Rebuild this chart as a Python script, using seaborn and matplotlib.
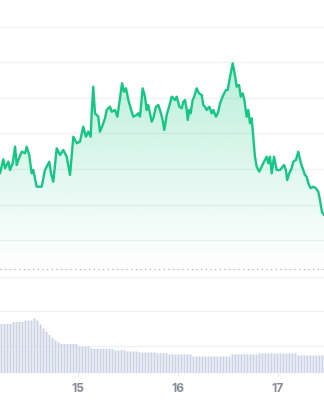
import numpy as np
import pandas as pd
import matplotlib
matplotlib.use("Agg")
import matplotlib.pyplot as plt
import seaborn as sns

# ---- data ----
days = [14.224, 14.257, 14.274, 14.307, 14.324, 14.351, 14.374, 14.391, 14.407, 14.441,
        14.474, 14.490, 14.516, 14.540, 14.556, 14.590, 14.623, 14.640, 14.673, 14.690,
        14.716, 14.733, 14.756, 14.790, 14.823, 14.856, 14.890, 14.923, 14.956, 14.990,
        15.022, 15.055, 15.082, 15.105, 15.129, 15.139, 15.155, 15.172, 15.205, 15.222,
        15.249, 15.272, 15.289, 15.322, 15.339, 15.372, 15.395, 15.415, 15.442, 15.462,
        15.482, 15.505, 15.538, 15.554, 15.588, 15.604, 15.621, 15.648, 15.671, 15.688,
        15.704, 15.738, 15.754, 15.781, 15.804, 15.821, 15.848, 15.864, 15.888, 15.921,
        15.938, 15.971, 15.988, 16.014, 16.038, 16.054, 16.071, 16.088, 16.098, 16.113,
        16.127, 16.147, 16.163, 16.187, 16.210, 16.237, 16.253, 16.270, 16.287, 16.313,
        16.337, 16.353, 16.380, 16.403, 16.420, 16.453, 16.480, 16.497, 16.520, 16.547,
        16.563, 16.587, 16.610, 16.627, 16.647, 16.663, 16.686, 16.702, 16.719, 16.736,
        16.769, 16.786, 16.812, 16.836, 16.859, 16.886, 16.902, 16.919, 16.936, 16.959,
        16.986, 17.019, 17.045, 17.059, 17.078, 17.091, 17.111, 17.135, 17.151, 17.178,
        17.201, 17.228, 17.251, 17.268, 17.285, 17.301, 17.325, 17.351, 17.378, 17.401,
        17.418, 17.438, 17.458]
price = [1.267, 1.407, 1.317, 1.383, 1.300, 1.367, 1.533, 1.350, 1.400, 1.483,
         1.467, 1.533, 1.450, 1.267, 1.300, 1.133, 1.133, 1.133, 1.300, 1.333,
         1.383, 1.267, 1.183, 1.517, 1.450, 1.500, 1.433, 1.250, 1.633, 1.567,
         1.583, 1.733, 1.633, 1.683, 1.633, 1.867, 2.133, 1.867, 1.833, 1.683,
         1.750, 1.817, 1.900, 1.933, 1.883, 1.900, 1.833, 1.967, 2.167, 2.083,
         2.117, 2.000, 1.883, 1.833, 1.850, 1.867, 1.833, 2.117, 2.033, 1.900,
         1.950, 1.783, 1.817, 1.933, 1.950, 1.900, 1.800, 1.700, 1.850, 1.967,
         2.033, 2.000, 2.033, 1.933, 1.917, 1.983, 2.000, 1.900, 1.800, 1.900,
         1.867, 2.000, 2.033, 2.117, 2.067, 2.050, 1.950, 1.933, 1.900, 1.933,
         1.867, 1.900, 1.833, 1.883, 1.967, 2.050, 2.100, 2.100, 2.233, 2.367,
         2.283, 2.133, 2.150, 2.033, 2.067, 2.000, 1.833, 1.900, 1.767, 1.817,
         1.433, 1.333, 1.283, 1.333, 1.383, 1.433, 1.367, 1.433, 1.267, 1.433,
         1.300, 1.300, 1.333, 1.350, 1.300, 1.200, 1.267, 1.317, 1.383, 1.400,
         1.483, 1.367, 1.300, 1.250, 1.233, 1.167, 1.117, 1.133, 1.117, 1.083,
         1.000, 0.880, 0.850]

volume = [4.90, 4.90, 4.90, 4.90, 5.10, 5.10, 5.10, 5.10, 5.25, 5.25,
          5.25, 5.45, 5.25, 4.85, 4.45, 4.10, 3.80, 3.50, 3.25, 3.05,
          2.90, 2.90, 2.90, 2.90, 2.90, 2.90, 2.65, 2.65, 2.65, 2.65,
          2.45, 2.43, 2.43, 2.43, 2.42, 2.43, 2.43, 2.42, 2.25, 2.25,
          2.30, 2.25, 2.15, 2.15, 2.15, 2.15, 2.05, 2.05, 2.05, 2.05,
          2.05, 2.05, 1.97, 1.97, 1.97, 1.97, 1.85, 1.85, 1.85, 1.85,
          1.85, 1.85, 1.85, 1.85, 1.65, 1.65, 1.65, 1.65, 1.65, 1.65,
          1.65, 1.65, 1.65, 1.65, 1.65, 1.65, 1.65, 1.87, 1.87, 1.87,
          1.87, 1.87, 1.87, 1.87, 1.87, 1.87, 1.95, 1.95, 1.95, 1.95,
          1.95, 1.95, 1.95, 1.95, 1.95, 1.95, 1.95, 1.95, 1.95, 1.75,
          1.75, 1.75, 1.75, 1.75, 1.75, 1.75, 1.75, 1.75]
vol_start = 14.239      # first bar time (day)
vol_step = 0.02994      # bar spacing (day)
bar_days = [round(vol_start + i * vol_step, 4) for i in range(len(volume))]

tick_days = [15, 16, 17]
tick_labels = ["15", "16", "17"]

# ---- style ----
LINE = "#16c784"
BAR = "#ccd3e5"
GRID = "#f0f1f3"
TXT = "#858c99"

sns.set_theme(style="white")
plt.rcParams["font.family"] = ["Inter", "DejaVu Sans"]

W, H = 324, 400
fig = plt.figure(figsize=(W / 100, H / 100), dpi=100)
fig.patch.set_facecolor("white")

xmin, xmax = 14.224, 17.458

# price panel: from top of figure down to just below the dotted line (y px 271)
ax1 = fig.add_axes([0, (H - 271) / H, 1, 271 / H])
ymin, ymax = 0.29, 3.00
ax1.set_xlim(xmin, xmax)
ax1.set_ylim(ymin, ymax)
for g in [2.733, 2.378, 2.022, 1.667, 1.310, 0.953, 0.603]:
    ax1.axhline(g, color=GRID, lw=0.9, zorder=0)
base = 0.31
ax1.axhline(base, color="#9ea4af", lw=0.8, ls=(0, (1, 3.2)), zorder=1)

df = pd.DataFrame({"day": days, "price": price})

# gradient fill under the line
grad = np.linspace(0.0, 1.0, 256).reshape(-1, 1)
rgba = np.zeros((256, 1, 4))
c = matplotlib.colors.to_rgb(LINE)
rgba[..., 0], rgba[..., 1], rgba[..., 2] = c
rgba[..., 3] = 0.0 + 0.30 * grad[:, 0:1] ** 1.1
top = max(price)
img = ax1.imshow(rgba, extent=[xmin, xmax, base, top], origin="lower",
                 aspect="auto", zorder=1)
poly = ax1.fill_between(df["day"], df["price"], base, color="none", lw=0)
clip = poly.get_paths()[0]
img.set_clip_path(clip, transform=ax1.transData)

sns.lineplot(data=df, x="day", y="price", ax=ax1, color=LINE, lw=1.7,
             zorder=3, sort=False)
ax1.set_axis_off()
ax1.set_xlim(xmin, xmax)
ax1.set_ylim(ymin, ymax)

# volume panel: y px 276 .. 373
ax2 = fig.add_axes([0, (H - 373) / H, 1, 97 / H])
vdf = pd.DataFrame({"day": bar_days, "vol": volume})
edges = [round(vol_start - vol_step / 2 + i * vol_step, 4) for i in range(len(volume) + 1)]
sns.histplot(data=vdf, x="day", weights="vol", bins=edges, ax=ax2,
             color=BAR, alpha=1.0, edgecolor="none", shrink=0.66, lw=0)
for p in ax2.patches:
    p.set_snap(False)
ax2.set_xlim(xmin, xmax)
ax2.set_ylim(0, 9.7)
for g in [9.65, 6.25, 2.73]:
    ax2.axhline(g, color=GRID, lw=0.9, zorder=0)
for s in ax2.spines.values():
    s.set_visible(False)
ax2.set_yticks([])
ax2.set_ylabel("")
ax2.set_xlabel("")
ax2.set_xticks(tick_days)
ax2.set_xticklabels(tick_labels)
ax2.tick_params(axis="x", length=2.5, width=0.7, color="#dfe2e8", pad=4.5,
                labelsize=8.7, labelcolor=TXT, bottom=True)
for lab in ax2.get_xticklabels():
    lab.set_fontweight("bold")
ax2.set_facecolor("none")
ax2.grid(False)

fig.savefig("out.png", dpi=100, facecolor="white")
